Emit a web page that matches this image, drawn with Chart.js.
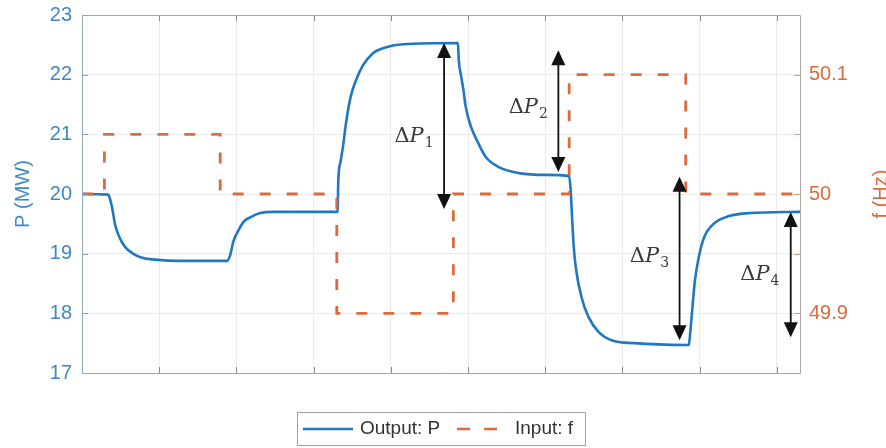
<!DOCTYPE html>
<html>
<head>
<meta charset="utf-8">
<script src="https://cdn.jsdelivr.net/npm/chart.js@4.4.1/dist/chart.umd.min.js"></script>
<style>
html, body { margin: 0; padding: 0; background: #fff; }
</style>
</head>
<body>
<canvas id="myChart" width="886" height="448"></canvas>
<script>
// output P (MW)
var tempoP = [0, 0.34, 0.36, 0.39, 0.43, 0.49, 0.56, 0.65, 0.78, 0.95, 1.25, 1.88, 1.92, 1.96, 2.03, 2.09, 2.18, 2.31, 2.48,
    3.31, 3.32, 3.35, 3.38, 3.42, 3.48, 3.55, 3.64, 3.77, 3.94, 4.16, 4.87, 4.88, 4.91, 4.94, 4.97, 5.04, 5.13, 5.23, 5.40, 5.66, 6.01,
    6.31, 6.33, 6.35, 6.37, 6.40, 6.47, 6.56, 6.69, 6.86, 7.16, 7.81, 7.86, 7.88, 7.90, 7.94, 7.99, 8.06, 8.19, 8.38, 8.64, 9.3];
var potencia = [20, 19.99, 19.93, 19.77, 19.48, 19.26, 19.11, 19.01, 18.93, 18.9, 18.88, 18.88, 18.98, 19.2, 19.4, 19.53, 19.61, 19.68, 19.7,
    19.7, 20.24, 20.55, 20.79, 21.19, 21.63, 21.91, 22.16, 22.36, 22.46, 22.51, 22.53, 22.25, 21.98, 21.75, 21.46, 21.12, 20.86, 20.62, 20.45, 20.35, 20.32,
    20.3, 20.05, 19.55, 19.1, 18.73, 18.27, 17.94, 17.69, 17.55, 17.5, 17.47, 17.47, 17.7, 18.0, 18.56, 18.95, 19.28, 19.51, 19.63, 19.68, 19.7];

// input f (Hz), step values
var tempoF = [0, 0.29, 1.79, 3.3, 4.81, 6.31, 7.82, 9.3];
var frequencia = [50, 50.05, 50, 49.9, 50, 50.1, 50, 50];

var ticksF = [49.9, 50, 50.1];

// delta P arrows: x, top, bottom (MW) and label position
var setas = [
    { nome: '1', x: 4.69, topo: 22.53, base: 19.75, lx: 4.30, ly: 20.87 },
    { nome: '2', x: 6.17, topo: 22.41, base: 20.37, lx: 5.78, ly: 21.36 },
    { nome: '3', x: 7.74, topo: 20.29, base: 17.55, lx: 7.35, ly: 18.86 },
    { nome: '4', x: 9.18, topo: 19.70, base: 17.60, lx: 8.78, ly: 18.56 }
];

var azul = '#1f78c1';
var laranja = '#dc6a3a';
var fonte = '"Liberation Sans", Arial, Helvetica, sans-serif';

function pontos(xs, ys) {
    return xs.map(function (v, i) { return { x: v, y: ys[i] }; });
}

function cabeca(ctx, x, y, dir) {
    ctx.beginPath();
    ctx.moveTo(x, y);
    ctx.lineTo(x - 7, y + dir * 15);
    ctx.lineTo(x + 7, y + dir * 15);
    ctx.closePath();
    ctx.fill();
}

var extras = {
    id: 'extras',
    afterDatasetsDraw: function (chart) {
        var ctx = chart.ctx;
        var a = chart.chartArea;
        var sx = chart.scales.x;
        var sy = chart.scales.yP;
        ctx.save();

        // tick marks pointing in
        ctx.lineWidth = 1;
        ctx.strokeStyle = '#8a8a8a';
        sx.ticks.forEach(function (t) {
            var px = Math.round(sx.getPixelForValue(t.value)) + 0.5;
            ctx.beginPath();
            ctx.moveTo(px, a.bottom); ctx.lineTo(px, a.bottom - 6);
            ctx.moveTo(px, a.top); ctx.lineTo(px, a.top + 6);
            ctx.stroke();
        });
        sy.ticks.forEach(function (t) {
            var py = Math.round(sy.getPixelForValue(t.value)) + 0.5;
            ctx.strokeStyle = '#7f9fbf';
            ctx.beginPath(); ctx.moveTo(a.left, py); ctx.lineTo(a.left + 6, py); ctx.stroke();
            ctx.strokeStyle = '#c4a191';
            ctx.beginPath(); ctx.moveTo(a.right, py); ctx.lineTo(a.right - 6, py); ctx.stroke();
        });

        // box
        var l = Math.round(a.left) + 0.5, r = Math.round(a.right) + 0.5;
        var t = Math.round(a.top) + 0.5, b = Math.round(a.bottom) + 0.5;
        ctx.strokeStyle = '#a3a3a3';
        ctx.beginPath(); ctx.moveTo(l, t); ctx.lineTo(r, t); ctx.moveTo(l, b); ctx.lineTo(r, b); ctx.stroke();
        ctx.strokeStyle = '#95a9bd';
        ctx.beginPath(); ctx.moveTo(l, t); ctx.lineTo(l, b); ctx.stroke();
        ctx.strokeStyle = '#b3a6a0';
        ctx.beginPath(); ctx.moveTo(r, t); ctx.lineTo(r, b); ctx.stroke();

        // arrows and labels
        setas.forEach(function (s) {
            var px = sx.getPixelForValue(s.x);
            var y1 = sy.getPixelForValue(s.topo);
            var y2 = sy.getPixelForValue(s.base);
            ctx.strokeStyle = '#111';
            ctx.fillStyle = '#111';
            ctx.lineWidth = 1.8;
            ctx.beginPath(); ctx.moveTo(px, y1 + 10); ctx.lineTo(px, y2 - 10); ctx.stroke();
            cabeca(ctx, px, y1, 1);
            cabeca(ctx, px, y2, -1);

            ctx.fillStyle = '#3a3a3a';
            ctx.textBaseline = 'alphabetic';
            ctx.textAlign = 'left';
            ctx.font = '21px "DejaVu Serif", serif';
            var wD = ctx.measureText('\u0394').width;
            ctx.font = 'italic 21px "DejaVu Serif", serif';
            var wP = ctx.measureText('P').width;
            ctx.font = '14px "DejaVu Serif", serif';
            var wS = ctx.measureText(s.nome).width;
            var lx = sx.getPixelForValue(s.lx) - (wD + wP + wS + 1) / 2;
            var ly = sy.getPixelForValue(s.ly);
            ctx.font = '21px "DejaVu Serif", serif';
            ctx.fillText('\u0394', lx, ly);
            ctx.font = 'italic 21px "DejaVu Serif", serif';
            ctx.fillText('P', lx + wD, ly);
            ctx.font = '14px "DejaVu Serif", serif';
            ctx.fillText(s.nome, lx + wD + wP + 1, ly + 5);
        });

        // right axis title, cut by the edge
        ctx.save();
        ctx.translate(chart.width + 1, (a.top + a.bottom) / 2);
        ctx.rotate(-Math.PI / 2);
        ctx.fillStyle = laranja;
        ctx.font = '20px ' + fonte;
        ctx.textAlign = 'center';
        ctx.textBaseline = 'alphabetic';
        ctx.fillText('f (Hz)', 0, 0);
        ctx.restore();

        // legend
        ctx.fillStyle = '#fff';
        ctx.fillRect(297, 412, 288, 33);
        ctx.strokeStyle = '#a0a0a0';
        ctx.lineWidth = 1;
        ctx.strokeRect(297.5, 412.5, 288, 33);
        ctx.lineWidth = 2.6;
        ctx.strokeStyle = azul;
        ctx.beginPath(); ctx.moveTo(303, 429); ctx.lineTo(353, 429); ctx.stroke();
        ctx.strokeStyle = laranja;
        ctx.setLineDash([13, 14]);
        ctx.beginPath(); ctx.moveTo(457, 429); ctx.lineTo(498, 429); ctx.stroke();
        ctx.setLineDash([]);
        ctx.fillStyle = '#333';
        ctx.font = '19px ' + fonte;
        ctx.textAlign = 'left';
        ctx.textBaseline = 'middle';
        ctx.fillText('Output: P', 360, 429);
        ctx.fillText('Input: f', 515, 429);

        ctx.restore();
    }
};

var ctx = document.getElementById('myChart').getContext('2d');

var grafico = new Chart(ctx, {
    type: 'line',
    data: {
        datasets: [{
            label: 'Output: P',
            data: pontos(tempoP, potencia),
            yAxisID: 'yP',
            borderColor: azul,
            borderWidth: 2.6,
            borderJoinStyle: 'round',
            pointRadius: 0,
            cubicInterpolationMode: 'monotone',
            order: 2
        }, {
            label: 'Input: f',
            data: pontos(tempoF, frequencia),
            yAxisID: 'yF',
            borderColor: laranja,
            borderWidth: 2.8,
            borderDash: [11, 16],
            stepped: true,
            pointRadius: 0,
            order: 1
        }]
    },
    options: {
        responsive: false,
        animation: false,
        layout: { padding: { top: 15, bottom: 75, left: 0, right: 0 } },
        plugins: {
            legend: { display: false },
            tooltip: { enabled: false }
        },
        scales: {
            x: {
                type: 'linear',
                min: 0,
                max: 9.3,
                ticks: { display: false, stepSize: 1, includeBounds: false },
                grid: { color: '#ebebeb', drawTicks: false },
                border: { display: false }
            },
            yP: {
                position: 'left',
                min: 17,
                max: 23,
                ticks: { stepSize: 1, color: '#3f88c5', padding: 0, font: { size: 20, family: fonte } },
                grid: { color: '#ebebeb', drawTicks: true, tickLength: 10, tickColor: 'rgba(0,0,0,0)' },
                border: { display: false },
                title: { display: true, text: 'P (MW)', color: '#3f88c5', font: { size: 20, family: fonte }, padding: { top: 11, bottom: 0 } },
                afterFit: function (s) { s.width = 82; }
            },
            yF: {
                position: 'right',
                min: 49.85,
                max: 50.15,
                afterBuildTicks: function (s) {
                    s.ticks = ticksF.map(function (v) { return { value: v }; });
                },
                ticks: {
                    color: laranja, padding: 0, font: { size: 20, family: fonte },
                    callback: function (v) { return String(v); }
                },
                grid: { display: false, drawTicks: true, tickLength: 9 },
                border: { display: false },
                afterFit: function (s) { s.width = 86; }
            }
        }
    },
    plugins: [extras]
});
</script>
</body>
</html>
